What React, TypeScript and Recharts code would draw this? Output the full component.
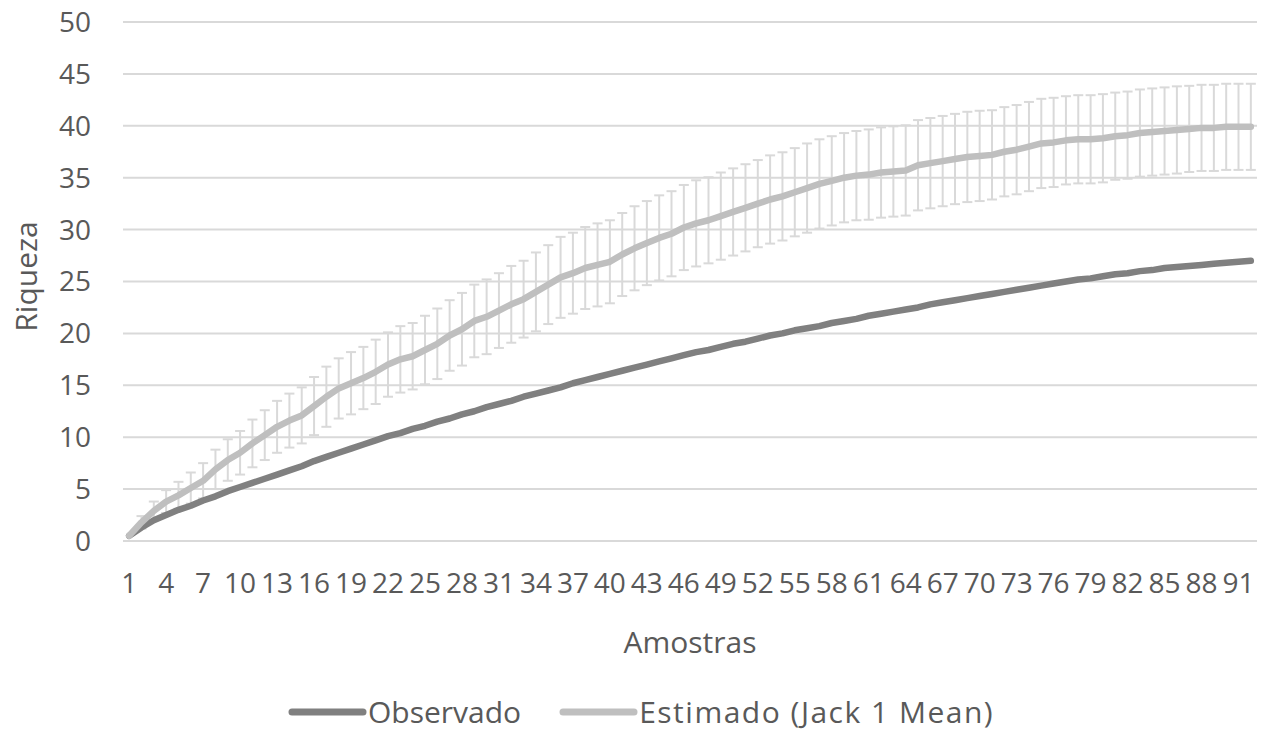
import React from 'react';
import { ComposedChart, Line, XAxis, YAxis, CartesianGrid, ErrorBar, Legend } from 'recharts';

const amostras = [
  1, 2, 3, 4, 5, 6, 7, 8, 9, 10,
  11, 12, 13, 14, 15, 16, 17, 18, 19, 20,
  21, 22, 23, 24, 25, 26, 27, 28, 29, 30,
  31, 32, 33, 34, 35, 36, 37, 38, 39, 40,
  41, 42, 43, 44, 45, 46, 47, 48, 49, 50,
  51, 52, 53, 54, 55, 56, 57, 58, 59, 60,
  61, 62, 63, 64, 65, 66, 67, 68, 69, 70,
  71, 72, 73, 74, 75, 76, 77, 78, 79, 80,
  81, 82, 83, 84, 85, 86, 87, 88, 89, 90,
  91, 92,
];

const observado = [
  0.5, 1.3, 2.0, 2.5, 3.0, 3.4, 3.9, 4.3, 4.8, 5.2,
  5.6, 6.0, 6.4, 6.8, 7.2, 7.7, 8.1, 8.5, 8.9, 9.3,
  9.7, 10.1, 10.4, 10.8, 11.1, 11.5, 11.8, 12.2, 12.5, 12.9,
  13.2, 13.5, 13.9, 14.2, 14.5, 14.8, 15.2, 15.5, 15.8, 16.1,
  16.4, 16.7, 17.0, 17.3, 17.6, 17.9, 18.2, 18.4, 18.7, 19.0,
  19.2, 19.5, 19.8, 20.0, 20.3, 20.5, 20.7, 21.0, 21.2, 21.4,
  21.7, 21.9, 22.1, 22.3, 22.5, 22.8, 23.0, 23.2, 23.4, 23.6,
  23.8, 24.0, 24.2, 24.4, 24.6, 24.8, 25.0, 25.2, 25.3, 25.5,
  25.7, 25.8, 26.0, 26.1, 26.3, 26.4, 26.5, 26.6, 26.7, 26.8,
  26.9, 27.0,
];

const estimado = [
  0.5, 1.8, 2.9, 3.8, 4.4, 5.1, 5.8, 6.9, 7.8, 8.5,
  9.4, 10.2, 11.0, 11.6, 12.1, 13.0, 13.9, 14.7, 15.2, 15.7,
  16.3, 17.0, 17.5, 17.8, 18.4, 19.0, 19.8, 20.4, 21.2, 21.6,
  22.2, 22.8, 23.3, 24.0, 24.7, 25.4, 25.8, 26.3, 26.6, 26.9,
  27.6, 28.2, 28.7, 29.2, 29.6, 30.2, 30.6, 30.9, 31.3, 31.7,
  32.1, 32.5, 32.9, 33.2, 33.6, 34.0, 34.4, 34.7, 35.0, 35.2,
  35.3, 35.5, 35.6, 35.7, 36.2, 36.4, 36.6, 36.8, 37.0, 37.1,
  37.2, 37.5, 37.7, 38.0, 38.3, 38.4, 38.6, 38.7, 38.7, 38.8,
  39.0, 39.1, 39.3, 39.4, 39.5, 39.6, 39.7, 39.8, 39.8, 39.9,
  39.9, 39.9,
];

const desvio = [
  0, 0.6, 0.9, 1.1, 1.3, 1.5, 1.7, 1.9, 2.0, 2.1,
  2.3, 2.4, 2.5, 2.6, 2.7, 2.8, 2.9, 2.9, 3.0, 3.0,
  3.1, 3.1, 3.2, 3.2, 3.3, 3.4, 3.4, 3.5, 3.5, 3.6,
  3.6, 3.7, 3.7, 3.8, 3.8, 3.9, 3.9, 3.95, 4.0, 4.0,
  4.0, 4.05, 4.05, 4.1, 4.1, 4.1, 4.15, 4.15, 4.2, 4.2,
  4.2, 4.2, 4.25, 4.25, 4.25, 4.3, 4.3, 4.3, 4.3, 4.3,
  4.35, 4.35, 4.35, 4.35, 4.35, 4.35, 4.35, 4.35, 4.35, 4.35,
  4.3, 4.3, 4.3, 4.3, 4.3, 4.3, 4.25, 4.25, 4.25, 4.25,
  4.2, 4.2, 4.2, 4.2, 4.2, 4.2, 4.15, 4.15, 4.15, 4.15,
  4.15, 4.15,
];

const yTicks = [0, 5, 10, 15, 20, 25, 30, 35, 40, 45, 50];

const seriesNames = ['Observado', 'Estimado (Jack 1 Mean)'];
const seriesColors = ['#808080', '#BFBFBF'];

const data = amostras.map((a, i) => ({
  amostra: a,
  observado: observado[i],
  estimado: estimado[i],
  desvio: desvio[i],
}));

const FONT = '"Open Sans", "Noto Sans", sans-serif';
const TEXT = '#595959';

const renderLegend = () => (
  <div
    style={{
      display: 'flex',
      alignItems: 'center',
      height: 40,
      paddingLeft: 286,
      fontFamily: FONT,
      fontSize: 30,
      color: TEXT,
      whiteSpace: 'nowrap',
      lineHeight: '40px',
    }}
  >
    {seriesNames.map((name, i) => (
      <div key={name} style={{ display: 'flex', alignItems: 'center', marginRight: i === 0 ? 36 : 0 }}>
        <svg width={82} height={14}>
          <line x1={6} y1={7} x2={77} y2={7} stroke={seriesColors[i]} strokeWidth={7} strokeLinecap="round" />
        </svg>
        <span style={{ letterSpacing: i === 1 ? 1.5 : 0 }}>{name}</span>
      </div>
    ))}
  </div>
);

export default function App() {
  return (
    <div style={{ position: 'absolute', left: 0, top: 0, width: 1266, height: 756, background: '#fff' }}>
      <ComposedChart
        width={1266}
        height={756}
        data={data}
        margin={{ top: 22, right: 9, left: 0, bottom: 24 }}
      >
        <CartesianGrid horizontal vertical={false} stroke="#D9D9D9" strokeWidth={2} />
        <XAxis
          dataKey="amostra"
          type="category"
          scale="band"
          interval={2}
          height={151}
          axisLine={false}
          tickLine={false}
          tickSize={0}
          tickMargin={32}
          tick={{ fontSize: 28, fill: TEXT, fontFamily: FONT }}
          label={{
            content: (props: any) => {
              const vb = props.viewBox || {};
              const cx = (vb.x || 0) + (vb.width || 0) / 2;
              return (
                <text x={cx} y={(vb.y || 0) + 112} textAnchor="middle" fontSize={30} fill={TEXT} fontFamily={FONT}>
                  Amostras
                </text>
              );
            },
          }}
        />
        <YAxis
          type="number"
          domain={[0, 50]}
          ticks={yTicks}
          width={123}
          axisLine={false}
          tickLine={false}
          tickSize={0}
          tickMargin={32}
          tick={{ fontSize: 28, fill: TEXT, fontFamily: FONT }}
          label={{
            content: (props: any) => {
              const vb = props.viewBox || {};
              const cy = (vb.y || 0) + (vb.height || 0) / 2 - 5;
              return (
                <text
                  x={37}
                  y={cy}
                  transform={`rotate(-90 37 ${cy})`}
                  textAnchor="middle"
                  fontSize={30}
                  fill={TEXT}
                  fontFamily={FONT}
                >
                  Riqueza
                </text>
              );
            },
          }}
        />
        <Legend verticalAlign="bottom" align="left" content={renderLegend} />
        <Line
          dataKey="estimado"
          stroke="none"
          dot={false}
          activeDot={false}
          legendType="none"
          isAnimationActive={false}
        >
          <ErrorBar dataKey="desvio" width={5} stroke="#D9D9D9" strokeWidth={2} direction="y" isAnimationActive={false} />
        </Line>
        <Line
          dataKey="observado"
          name={seriesNames[0]}
          stroke={seriesColors[0]}
          strokeWidth={6.5}
          strokeLinecap="round"
          strokeLinejoin="round"
          dot={false}
          activeDot={false}
          isAnimationActive={false}
        />
        <Line
          dataKey="estimado"
          name={seriesNames[1]}
          stroke={seriesColors[1]}
          strokeWidth={6.5}
          strokeLinecap="round"
          strokeLinejoin="round"
          dot={false}
          activeDot={false}
          isAnimationActive={false}
        />
      </ComposedChart>
    </div>
  );
}
